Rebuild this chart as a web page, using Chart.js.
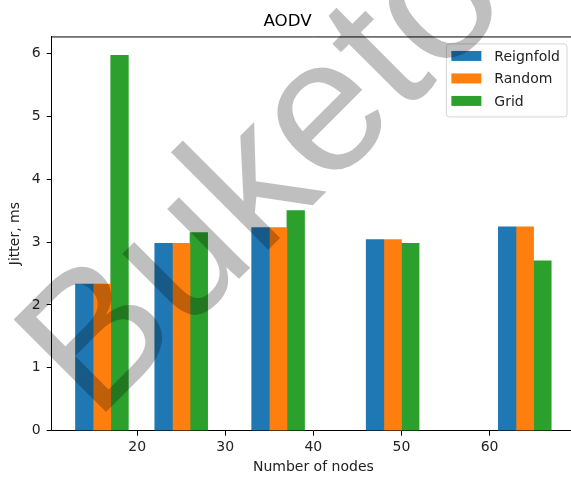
<!DOCTYPE html>
<html>
<head>
<meta charset="utf-8">
<script src="https://cdn.jsdelivr.net/npm/chart.js@4/dist/chart.umd.min.js"></script>
<style>
  html, body { margin: 0; padding: 0; background: #fff; overflow: hidden; }
  #wrap { width: 571px; height: 477px; overflow: hidden; position: relative; }
  canvas { display: block; }
</style>
</head>
<body>
<div id="wrap"><canvas id="c" width="580" height="477"></canvas></div>
<script>
// Jitter (ms) of AODV for each node count and placement strategy
const nodes = [16, 25, 36, 49, 64];
const reignfold = [2.33, 2.98, 3.23, 3.04, 3.24];
const random = [2.33, 2.98, 3.23, 3.04, 3.24];
const grid = [5.97, 3.15, 3.50, 2.98, 2.70];
const seriesNames = ['Reignfold', 'Random', 'Grid'];
const xTickValues = [20, 30, 40, 50, 60];
const yTickValues = [0, 1, 2, 3, 4, 5, 6];

// layout of the bars inside a group (in node units)
const BAR_WIDTH = 2;
const OFFSETS = [-BAR_WIDTH, 0, BAR_WIDTH];
const COLORS = ['#1f77b4', '#ff7f0e', '#2ca02c'];
const FONT = '"DejaVu Sans", sans-serif';

const seriesValues = [reignfold, random, grid];
const datasets = seriesValues.map((vals, s) => ({
  label: seriesNames[s],
  data: vals.map((v, i) => ({ x: nodes[i] + OFFSETS[s], y: v })),
  backgroundColor: COLORS[s],
  borderWidth: 0,
  grouped: false,
  barPercentage: 1,
  categoryPercentage: 1
}));

// axis limits with a 5% margin around the bars / values
const xLo = nodes[0] + OFFSETS[0] - BAR_WIDTH / 2;
const xHi = nodes[nodes.length - 1] + OFFSETS[2] + BAR_WIDTH / 2;
const xPad = (xHi - xLo) * 0.05;
const yMax = Math.max(...reignfold, ...random, ...grid) * 1.05;

const frameAndLegend = {
  id: 'frameAndLegend',
  afterDraw(chart) {
    const { ctx, chartArea: a } = chart;
    ctx.save();
    // top spine
    ctx.strokeStyle = '#000';
    ctx.lineWidth = 1;
    ctx.beginPath();
    ctx.moveTo(a.left, a.top + 0.5);
    ctx.lineTo(a.right, a.top + 0.5);
    ctx.moveTo(a.right - 0.5, a.top);
    ctx.lineTo(a.right - 0.5, a.bottom);
    ctx.stroke();

    // legend box in the upper right corner
    ctx.font = '14px ' + FONT;
    const textW = Math.max(...chart.data.datasets.map(d => ctx.measureText(d.label).width));
    const right = a.right - 8;
    const top = a.top + 7.5;
    const padL = 5, handleW = 30, gap = 13, padR = 7;
    const w = padL + handleW + gap + textW + padR;
    const rowH = 22.5;
    const h = 73;
    const left = right - w;
    ctx.beginPath();
    ctx.roundRect(left, top, w, h, 3);
    ctx.fillStyle = 'rgba(255,255,255,0.8)';
    ctx.fill();
    ctx.strokeStyle = '#d5d5d5';
    ctx.lineWidth = 1;
    ctx.stroke();
    ctx.textBaseline = 'middle';
    ctx.textAlign = 'left';
    chart.data.datasets.forEach((d, i) => {
      const cy = top + 12 + i * rowH;
      ctx.fillStyle = d.backgroundColor;
      ctx.fillRect(left + padL, cy - 5, handleW, 10);
      ctx.fillStyle = '#222';
      ctx.fillText(d.label, left + padL + handleW + gap, cy + 1);
    });
    ctx.restore();

    // watermark
    ctx.save();
    ctx.fillStyle = 'rgba(0,0,0,0.25)';
    ctx.font = '190px "Liberation Sans", Arial, sans-serif';
    ctx.translate(95, 423);
    ctx.rotate(-Math.PI / 4);
    ctx.textBaseline = 'alphabetic';
    ctx.fillText('Buketov', 0, 0);
    ctx.restore();
  }
};

new Chart(document.getElementById('c'), {
  type: 'bar',
  data: { datasets },
  options: {
    responsive: false,
    animation: false,
    devicePixelRatio: 1,
    layout: { padding: { top: 0, right: 5, bottom: 0, left: 0 } },
    plugins: {
      legend: { display: false },
      tooltip: { enabled: false },
      title: {
        display: true,
        text: 'AODV',
        color: '#000',
        font: { family: FONT, size: 16.7, weight: 'normal' },
        padding: { top: 11.8, bottom: 4.6 }
      }
    },
    scales: {
      x: {
        type: 'linear',
        offset: false,
        min: xLo - xPad,
        max: xHi + xPad,
        z: 1,
        afterFit(scale) { scale.height = 46.3; },
        afterBuildTicks(scale) { scale.ticks = xTickValues.map(v => ({ value: v })); },
        grid: { offset: false, drawOnChartArea: false, drawTicks: true, tickLength: 5, tickColor: '#000', tickWidth: 1 },
        border: { display: true, color: '#000', width: 1 },
        ticks: { color: '#222', font: { family: FONT, size: 14 }, padding: 3.5, maxRotation: 0, autoSkip: false },
        title: { display: true, text: 'Number of nodes', color: '#222', font: { family: FONT, size: 14 }, padding: { top: 0, bottom: 1 } }
      },
      y: {
        type: 'linear',
        min: 0,
        max: yMax,
        z: 1,
        afterFit(scale) { scale.width = 51.7; },
        afterBuildTicks(scale) { scale.ticks = yTickValues.map(v => ({ value: v })); },
        grid: { drawOnChartArea: false, drawTicks: true, tickLength: 5, tickColor: '#000', tickWidth: 1 },
        border: { display: true, color: '#000', width: 1 },
        ticks: { color: '#222', font: { family: FONT, size: 14 }, padding: 6, autoSkip: false },
        title: { display: true, text: 'Jitter, ms', color: '#222', font: { family: FONT, size: 14 }, padding: { top: 7, bottom: 0 } }
      }
    }
  },
  plugins: [frameAndLegend]
});
</script>
</body>
</html>
